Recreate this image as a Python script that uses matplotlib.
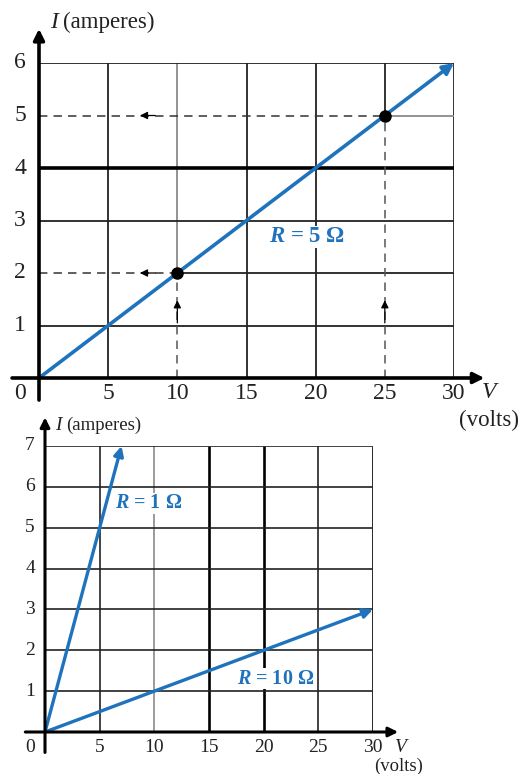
import matplotlib
matplotlib.use("Agg")
import matplotlib.pyplot as plt

# ---- data ----
top_v_ticks = [5, 10, 15, 20, 25, 30]
top_i_ticks = [1, 2, 3, 4, 5, 6]
top_line_v = [0, 30]
top_line_i = [0, 6]
point_v = [10, 25]
point_i = [2, 5]
top_label = "$R$ = 5 Ω"

bot_v_ticks = [5, 10, 15, 20, 25, 30]
bot_i_ticks = [1, 2, 3, 4, 5, 6, 7]
r1_v = [0, 7]
r1_i = [0, 7]
r10_v = [0, 30]
r10_i = [0, 3]
r1_label = "$R$ = 1 Ω"
r10_label = "$R$ = 10 Ω"

plt.rcParams["mathtext.fontset"] = "custom"
plt.rcParams["mathtext.it"] = "Liberation Serif:italic:bold"
plt.rcParams["mathtext.rm"] = "Liberation Serif:bold"

W, H = 526, 774
BLUE = "#1f73bc"
INK = "#222222"
GRAY = "#8a8a8a"
SERIF = ["Liberation Serif", "DejaVu Serif"]

fig = plt.figure(figsize=(W / 100, H / 100), dpi=100)


def fpos(px, py):
    return px / W, 1 - py / H


def make_axes(l, t, r, b):
    x0, y1 = fpos(l, t)
    x1, y0 = fpos(r, b)
    ax = fig.add_axes([x0, y0, x1 - x0, y1 - y0])
    for s in ax.spines.values():
        s.set_visible(False)
    ax.set_xticks([])
    ax.set_yticks([])
    ax.patch.set_alpha(0)
    return ax


def axis_arrow(ax, start, end, lw=2.6, ms=16):
    ax.annotate("", xy=end, xytext=start, annotation_clip=False,
                arrowprops=dict(arrowstyle="-|>", lw=lw, color="black",
                                mutation_scale=ms, shrinkA=0, shrinkB=0),
                zorder=6)


def small_arrow(ax, start, end):
    ax.annotate("", xy=end, xytext=start, annotation_clip=False,
                arrowprops=dict(arrowstyle="-|>", lw=0.9, color="black",
                                mutation_scale=11, shrinkA=0, shrinkB=0),
                zorder=5)


# ================= top chart: R = 5 ohm =================
ax1 = make_axes(39, 63, 454, 378)
ax1.set_xlim(0, 30)
ax1.set_ylim(0, 6)

# grid
ax1.vlines([5, 15, 20, 30], 0, 6, color=INK, lw=1.3, zorder=1)
ax1.vlines([10], 2, 6, color=GRAY, lw=1.3, zorder=1)
ax1.vlines([25], 5, 6, color=INK, lw=1.3, zorder=1)
ax1.hlines([1, 3, 6], 0, 30, color=INK, lw=1.3, zorder=1)
ax1.hlines([4], 0, 30, color="black", lw=2.6, zorder=1)
ax1.hlines([2], 10, 30, color=INK, lw=1.3, zorder=1)
ax1.hlines([5], 25, 30, color=GRAY, lw=1.3, zorder=1)

# dashed read-off lines
for v, i in zip(point_v, point_i):
    ax1.plot([0, v], [i, i], ls=(0, (5.5, 4)), color="#333333", lw=1.1, zorder=2)
    ax1.plot([v, v], [0, i], ls=(0, (5.5, 4)), color="#555555", lw=1.1, zorder=2)
    small_arrow(ax1, (8.4, i), (7.3, i))
    small_arrow(ax1, (v, 1.05), (v, 1.48))

# main line
ax1.annotate("", xy=(top_line_v[1], top_line_i[1]),
             xytext=(top_line_v[0], top_line_i[0]), annotation_clip=False,
             arrowprops=dict(arrowstyle="-|>", lw=2.6, color=BLUE,
                             mutation_scale=16, shrinkA=0, shrinkB=0),
             zorder=4)
ax1.plot(point_v, point_i, "o", color="black", ms=8, zorder=5, clip_on=False)

ax1.text(16.6, 2.69, top_label, color=BLUE, fontsize=16.5, family=SERIF,
         fontweight="bold", va="center", ha="left",
         bbox=dict(fc="white", ec="none", pad=0.5), zorder=3)

# axes with arrows
axis_arrow(ax1, (-1.95, 0), (32.2, 0))
axis_arrow(ax1, (0, -0.42), (0, 6.65))

for t in top_i_ticks:
    ax1.text(-1.37, t, str(t), fontsize=17, family=SERIF, color=INK,
             ha="center", va="center")
ax1.text(-1.37, -0.29, "0", fontsize=17, family=SERIF, color=INK,
         ha="center", va="center")
for t in top_v_ticks:
    ax1.text(t, -0.29, str(t), fontsize=17, family=SERIF, color=INK,
             ha="center", va="center")

x, y = fpos(489, 393)
fig.text(x, y, "V", fontsize=17, family=SERIF, style="italic", color=INK,
         ha="center", va="center")
x, y = fpos(489, 420)
fig.text(x, y, "(volts)", fontsize=16.5, family=SERIF, color=INK,
         ha="center", va="center")
x, y = fpos(50, 22)
fig.text(x, y, "I", fontsize=17, family=SERIF, style="italic", color=INK,
         ha="left", va="center")
x, y = fpos(63, 22)
fig.text(x, y, "(amperes)", fontsize=16.5, family=SERIF, color=INK,
         ha="left", va="center")

# ================= bottom chart: R = 1 and 10 ohm =================
ax2 = make_axes(45, 446, 373, 732)
ax2.set_xlim(0, 30)
ax2.set_ylim(0, 7)

ax2.vlines([5, 25], 0, 7, color=INK, lw=1.2, zorder=1)
ax2.vlines([10], 0, 7, color=GRAY, lw=1.2, zorder=1)
ax2.vlines([15, 20, 30], 0, 7, color="black", lw=1.9, zorder=1)
ax2.hlines(bot_i_ticks, 0, 30, color=INK, lw=1.2, zorder=1)

for vv, ii in ((r1_v, r1_i), (r10_v, r10_i)):
    ax2.annotate("", xy=(vv[1], ii[1]), xytext=(vv[0], ii[0]),
                 annotation_clip=False,
                 arrowprops=dict(arrowstyle="-|>", lw=2.4, color=BLUE,
                                 mutation_scale=14, shrinkA=0, shrinkB=0),
                 zorder=4)

ax2.text(6.4, 5.6, r1_label, color=BLUE, fontsize=14.5, family=SERIF,
         fontweight="bold", va="center", ha="left",
         bbox=dict(fc="white", ec="none", pad=0.5), zorder=3)
ax2.text(17.6, 1.3, r10_label, color=BLUE, fontsize=14.5, family=SERIF,
         fontweight="bold", va="center", ha="left",
         bbox=dict(fc="white", ec="none", pad=0.5), zorder=3)

axis_arrow(ax2, (-1.8, 0), (32.3, 0), lw=2.2, ms=14)
axis_arrow(ax2, (0, -0.5), (0, 7.7), lw=2.2, ms=14)

for t in bot_i_ticks:
    ax2.text(-1.37, t, str(t), fontsize=14, family=SERIF, color=INK,
             ha="center", va="center")
ax2.text(-1.37, -0.37, "0", fontsize=14, family=SERIF, color=INK,
         ha="center", va="center")
for t in bot_v_ticks:
    ax2.text(t, -0.37, str(t), fontsize=14, family=SERIF, color=INK,
             ha="center", va="center")

x, y = fpos(401, 747)
fig.text(x, y, "V", fontsize=14, family=SERIF, style="italic", color=INK,
         ha="center", va="center")
x, y = fpos(399, 766)
fig.text(x, y, "(volts)", fontsize=13.5, family=SERIF, color=INK,
         ha="center", va="center")
x, y = fpos(55, 425)
fig.text(x, y, "I", fontsize=14, family=SERIF, style="italic", color=INK,
         ha="left", va="center")
x, y = fpos(66, 425)
fig.text(x, y, "(amperes)", fontsize=13.5, family=SERIF, color=INK,
         ha="left", va="center")

fig.savefig("out.png", dpi=100)
